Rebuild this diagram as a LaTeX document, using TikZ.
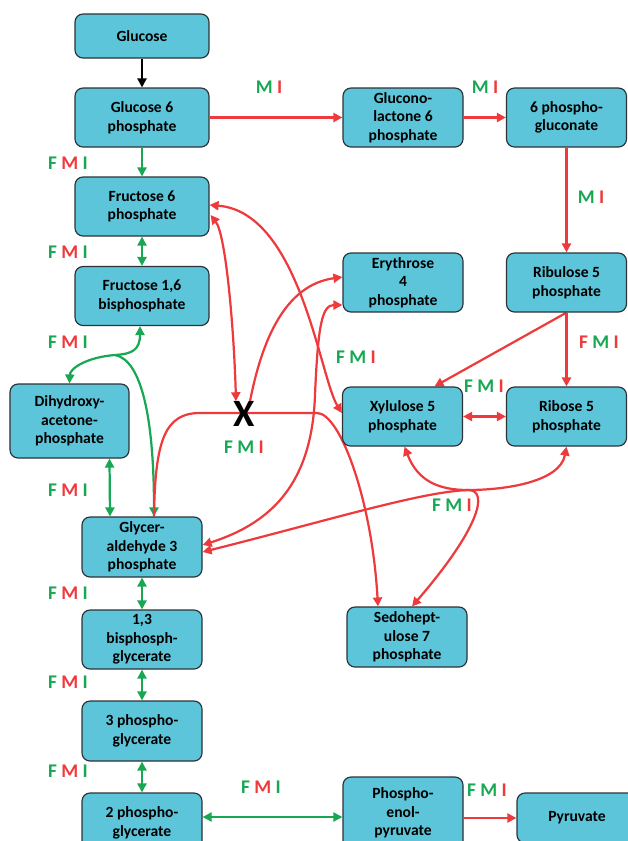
\documentclass[tikz,border=0pt]{standalone}
\usepackage{fontspec}
\setmainfont{Carlito}
\usetikzlibrary{arrows.meta,calc,backgrounds}
\definecolor{boxfill}{RGB}{92,197,218}
\definecolor{boxdraw}{RGB}{45,50,55}
\definecolor{arrowgreen}{RGB}{24,168,84}
\definecolor{arrowred}{RGB}{238,58,60}
\newcommand{\gn}[1]{\textcolor{arrowgreen}{#1}}
\newcommand{\rd}[1]{\textcolor{arrowred}{#1}}
\tikzset{
        % Metabolite boxes
        box_metab/.style={rectangle, rounded corners=2.4mm, draw=boxdraw, fill=boxfill, line width=1pt,
                align=center, inner sep=0pt, minimum width=36mm, minimum height=17.7mm,
                font=\fontsize{13.3}{15.8}\selectfont\bfseries},
        % Wider boxes at the top of the glycolysis column
        box_wide/.style={box_metab, minimum width=40.2mm},
        % Enzyme labels
        label_fmi/.style={inner sep=0pt, font=\fontsize{16.5}{18}\selectfont\bfseries},
        % Connectors
        flow_black/.style={->, black, line width=1.9pt},
        flow_green/.style={->, arrowgreen, line width=1.9pt},
        flow_green_bi/.style={<->, arrowgreen, line width=1.9pt},
        flow_red/.style={->, arrowred, line width=1.9pt},
        flow_red_bi/.style={<->, arrowred, line width=1.9pt}
}
\begin{document}
\begin{tikzpicture}[x=0.3mm, y=-0.3mm, >={Triangle[length=2.7mm,width=2.7mm]}]
    \useasboundingbox (0,0) rectangle (628,841);
    \clip (0,0) rectangle (628,841);
    % glycolysis column
    \node[box_wide, minimum height=13.2mm] (glc) at (142,36) {Glucose};
    \node[box_wide] (g6p) at (142,117.5) {Glucose 6\\phosphate};
    \node[box_wide] (f6p) at (142,206.5) {Fructose 6\\phosphate};
    \node[box_wide] (f16bp) at (142,296) {Fructose 1,6\\bisphosphate};
    \node[box_metab, minimum width=35.7mm, minimum height=22.2mm] (dhap) at (69.5,421) {Dihydroxy-\\acetone-\\phosphate};
    \node[box_metab, minimum height=18mm] (ga3p) at (142,547) {Glycer-\\aldehyde 3\\phosphate};
    \node[box_metab] (bpg) at (142,639.5) {1,3\\bisphosph-\\glycerate};
    \node[box_metab, minimum height=18mm] (pg3) at (142,731) {3 phospho-\\glycerate};
    \node[box_metab, minimum height=18mm] (pg2) at (142,823) {2 phospho-\\glycerate};
    \node[box_metab, minimum height=21.6mm] (pep) at (403,813) {Phospho-\\enol-\\pyruvate};
    \node[box_metab, minimum height=15mm] (pyr) at (577,818) {Pyruvate};
    % pentose phosphate side
    \node[box_metab] (gl6p) at (403,117.5) {Glucono-\\lactone 6\\phosphate};
    \node[box_metab] (pgl6) at (566.5,117.5) {6 phospho-\\gluconate};
    \node[box_metab] (e4p) at (403,282.5) {Erythrose\\4\\phosphate};
    \node[box_metab] (ru5p) at (566.5,282.5) {Ribulose 5\\phosphate};
    \node[box_metab] (x5p) at (402.5,416.5) {Xylulose 5\\phosphate};
    \node[box_metab] (r5p) at (566.5,416.5) {Ribose 5\\phosphate};
    \node[box_metab, minimum height=18mm] (s7p) at (407,637) {Sedohept-\\ulose 7\\phosphate};
    % blocked step
    \node[inner sep=0pt, font=\fontsize{33}{33}\selectfont\bfseries] (xmark) at (244,414) {X};
    \coordinate (jg) at (115,355);
    \coordinate (jr) at (468,490);

    \begin{pgfonlayer}{background}
    \draw[flow_black] (glc) -- (g6p);
    \draw[flow_green] (g6p) -- (f6p);
    \draw[flow_green_bi] (f6p) -- (f16bp);
    \draw[flow_green_bi] ($(f16bp.south)+(-2,0)$) .. controls (140,350) and (132,354) .. (jg)
        .. controls (88,357) and (70,368) .. (dhap.north);
    \draw[flow_green] (jg) .. controls (142,360) and (154,420) .. ($(ga3p.north)+(12,0)$);
    \draw[flow_green_bi] ($(dhap.south)+(40,0)$) -- ($(ga3p.north)+(-32,0)$);
    \draw[flow_green_bi] (ga3p) -- (bpg);
    \draw[flow_green_bi] (bpg) -- (pg3);
    \draw[flow_green_bi] (pg3) -- (pg2);
    \draw[flow_green_bi] ($(pg2.east)+(0,-6)$) -- ($(pep.west)+(0,4)$);
    \draw[flow_red] (pyr.west -| pep.east) -- (pyr.west);

    \draw[flow_red] (g6p) -- (gl6p);
    \draw[flow_red] (gl6p) -- (pgl6);
    \draw[flow_red] (pgl6) -- (ru5p);
    \draw[flow_red] (ru5p) -- (r5p);
    \draw[flow_red] (ru5p.south) -- ($(x5p.north)+(32,0)$);
    \draw[flow_red_bi] (x5p) -- (r5p);

    \draw[flow_red_bi] ($(f6p.east)+(0,-1.5)$) .. controls (300,212) and (320,378) .. ($(x5p.west)+(0,-3.5)$);
    \draw[flow_red_bi] ($(f6p.east)+(1,8.5)$) .. controls (226,235) and (234,330) .. ($(xmark.north)+(-8,0)$);
    \draw[flow_red] ($(xmark.north)+(6,0)$) .. controls (262,340) and (285,285) .. ($(e4p.west)+(0,-5.5)$);
    \draw[flow_red] ($(ga3p.north)+(12,0)$) .. controls (155,440) and (165,413) .. (200,413) -- (317,413)
        .. controls (340,413) and (372,500) .. ($(s7p.north)+(-29,0)$);
    \draw[flow_red_bi] ($(ga3p.east)+(0,-2)$) .. controls (275,522) and (312,480) .. (315,395)
        .. controls (318,325) and (322,305) .. ($(e4p.west)+(0,22.5)$);
    \draw[flow_red_bi] ($(x5p.south)+(2,0)$) .. controls (418,482) and (440,490) .. (jr)
        .. controls (505,490) and (560,482) .. (r5p.south);
    \draw[flow_red] (jr) .. controls (420,492) and (330,520) .. ($(ga3p.east)+(0,5)$);
    \draw[flow_red] (jr) .. controls (490,490) and (478,530) .. ($(s7p.north)+(5,0)$);
    \end{pgfonlayer}

    % enzyme labels
    \node[label_fmi] (lab1) at (269,87) {\gn{M} \rd{I}};
    \node[label_fmi] (lab2) at (485,87) {\gn{M} \rd{I}};
    \node[label_fmi] (lab3) at (591,197) {\gn{M} \rd{I}};
    \node[label_fmi] (lab4) at (68,163) {\gn{F} \rd{M} \gn{I}};
    \node[label_fmi] (lab5) at (68,252) {\gn{F} \rd{M} \gn{I}};
    \node[label_fmi] (lab6) at (68,342) {\gn{F} \rd{M} \gn{I}};
    \node[label_fmi] (lab7) at (68,490) {\gn{F} \rd{M} \gn{I}};
    \node[label_fmi] (lab8) at (244,447) {\gn{F} \gn{M} \rd{I}};
    \node[label_fmi] (lab9) at (356,357) {\gn{F} \gn{M} \rd{I}};
    \node[label_fmi] (lab10) at (599,342) {\rd{F} \gn{M} \rd{I}};
    \node[label_fmi] (lab11) at (484,386) {\gn{F} \gn{M} \rd{I}};
    \node[label_fmi] (lab12) at (452,505) {\gn{F} \gn{M} \rd{I}};
    \node[label_fmi] (lab13) at (68,593) {\gn{F} \rd{M} \gn{I}};
    \node[label_fmi] (lab14) at (68,682) {\gn{F} \rd{M} \gn{I}};
    \node[label_fmi] (lab15) at (68,771) {\gn{F} \rd{M} \gn{I}};
    \node[label_fmi] (lab16) at (261,787) {\gn{F} \rd{M} \gn{I}};
    \node[label_fmi] (lab17) at (487,790) {\gn{F} \gn{M} \rd{I}};
\end{tikzpicture}
\end{document}
